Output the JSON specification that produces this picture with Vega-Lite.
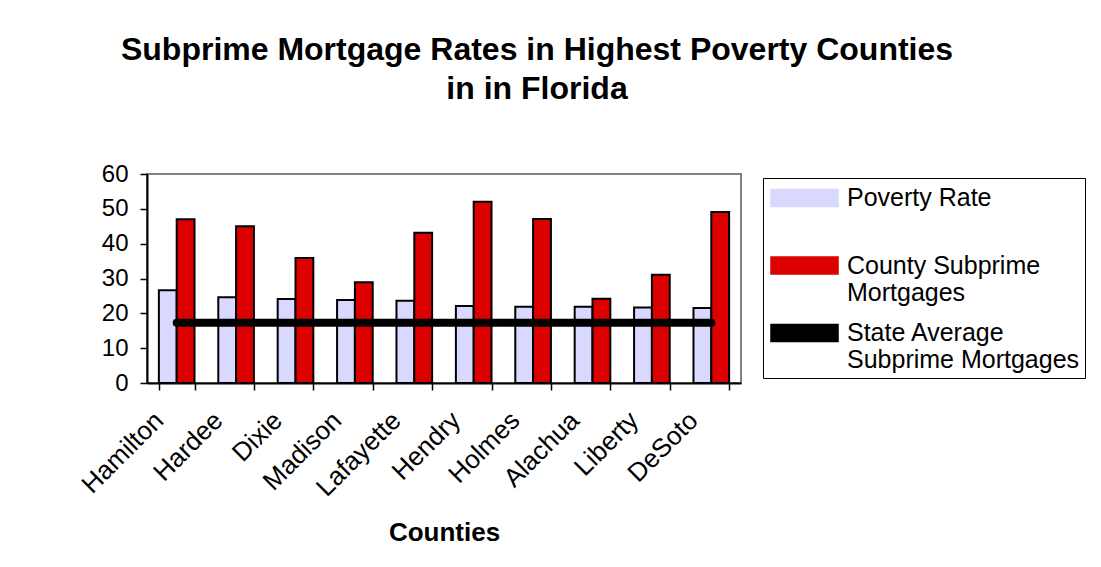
{
  "$schema": "https://vega.github.io/schema/vega-lite/v6.json",
  "autosize": "none",
  "width": 594,
  "height": 209,
  "padding": {"left": 147, "top": 174, "right": 360, "bottom": 184},
  "background": "white",
  "config": {
    "font": "Liberation Sans",
    "view": {"stroke": "#808080", "strokeWidth": 2}
  },
  "title": {
    "text": ["Subprime Mortgage Rates in Highest Poverty Counties", "in in Florida"],
    "font": "Liberation Sans",
    "fontSize": 32,
    "fontWeight": "bold",
    "color": "black",
    "anchor": "middle",
    "dx": 93,
    "offset": 56,
    "lineHeight": 39
  },
  "datasets": {
    "bars": [
      {"county": "Hamilton", "series": "Poverty Rate", "value": 26.6},
      {"county": "Hamilton", "series": "County Subprime Mortgages", "value": 47.0},
      {"county": "Hardee", "series": "Poverty Rate", "value": 24.6},
      {"county": "Hardee", "series": "County Subprime Mortgages", "value": 45.0},
      {"county": "Dixie", "series": "Poverty Rate", "value": 24.1},
      {"county": "Dixie", "series": "County Subprime Mortgages", "value": 35.9},
      {"county": "Madison", "series": "Poverty Rate", "value": 23.8},
      {"county": "Madison", "series": "County Subprime Mortgages", "value": 28.9},
      {"county": "Lafayette", "series": "Poverty Rate", "value": 23.6},
      {"county": "Lafayette", "series": "County Subprime Mortgages", "value": 43.1},
      {"county": "Hendry", "series": "Poverty Rate", "value": 22.1},
      {"county": "Hendry", "series": "County Subprime Mortgages", "value": 52.0},
      {"county": "Holmes", "series": "Poverty Rate", "value": 21.9},
      {"county": "Holmes", "series": "County Subprime Mortgages", "value": 47.1},
      {"county": "Alachua", "series": "Poverty Rate", "value": 21.9},
      {"county": "Alachua", "series": "County Subprime Mortgages", "value": 24.2},
      {"county": "Liberty", "series": "Poverty Rate", "value": 21.7},
      {"county": "Liberty", "series": "County Subprime Mortgages", "value": 31.1},
      {"county": "DeSoto", "series": "Poverty Rate", "value": 21.5},
      {"county": "DeSoto", "series": "County Subprime Mortgages", "value": 49.1}
    ],
    "avg": [
      {"county": "Hamilton", "series": "State Average Subprime Mortgages", "value": 17.3},
      {"county": "Hardee", "series": "State Average Subprime Mortgages", "value": 17.3},
      {"county": "Dixie", "series": "State Average Subprime Mortgages", "value": 17.3},
      {"county": "Madison", "series": "State Average Subprime Mortgages", "value": 17.3},
      {"county": "Lafayette", "series": "State Average Subprime Mortgages", "value": 17.3},
      {"county": "Hendry", "series": "State Average Subprime Mortgages", "value": 17.3},
      {"county": "Holmes", "series": "State Average Subprime Mortgages", "value": 17.3},
      {"county": "Alachua", "series": "State Average Subprime Mortgages", "value": 17.3},
      {"county": "Liberty", "series": "State Average Subprime Mortgages", "value": 17.3},
      {"county": "DeSoto", "series": "State Average Subprime Mortgages", "value": 17.3}
    ]
  },
  "encoding": {
    "x": {
      "field": "county",
      "type": "nominal",
      "sort": ["Hamilton", "Hardee", "Dixie", "Madison", "Lafayette", "Hendry", "Holmes", "Alachua", "Liberty", "DeSoto"],
      "scale": {"paddingInner": 0.4, "paddingOuter": 0.2},
      "axis": {
        "title": "Counties",
        "titleFont": "Liberation Sans",
        "titleFontSize": 26,
        "titleFontWeight": "bold",
        "titleColor": "black",
        "titlePadding": 19,
        "labelAngle": -45,
        "labelAlign": "right",
        "labelBaseline": "middle",
        "labelFontSize": 26,
        "labelColor": "black",
        "labelPadding": 26,
        "labelOffset": -18,
        "tickBand": "extent",
        "tickSize": 7,
        "tickColor": "black",
        "tickWidth": 1.5,
        "domainColor": "black",
        "domainWidth": 2
      }
    },
    "y": {
      "field": "value",
      "type": "quantitative",
      "scale": {"domain": [0, 60]},
      "axis": {
        "title": null,
        "values": [0, 10, 20, 30, 40, 50, 60],
        "grid": false,
        "labelOverlap": false,
        "labelFontSize": 24,
        "labelColor": "black",
        "labelPadding": 12,
        "tickSize": 7,
        "tickColor": "black",
        "tickWidth": 1.5,
        "domainColor": "black",
        "domainWidth": 2
      }
    }
  },
  "layer": [
    {
      "data": {"name": "bars"},
      "mark": {"type": "bar", "stroke": "black", "strokeWidth": 2},
      "encoding": {
        "xOffset": {"field": "series", "type": "nominal", "sort": ["Poverty Rate", "County Subprime Mortgages"], "scale": {"paddingInner": 0}},
        "color": {
          "field": "series",
          "type": "nominal",
          "scale": {
            "domain": ["Poverty Rate", "County Subprime Mortgages", "State Average Subprime Mortgages"],
            "range": ["#d9d9ff", "#dc0000", "#000000"]
          },
          "legend": {
            "title": null,
            "orient": "none",
            "legendX": 616,
            "legendY": 4,
            "strokeColor": "black",
            "fillColor": "white",
            "padding": 5,
            "labelFont": "Liberation Sans",
            "labelFontSize": 25,
            "labelColor": "black",
            "labelOffset": 49,
            "labelLimit": 400,
            "rowPadding": 12.5,
            "symbolType": "M-0.857,-0.607H3.93V0.607H-0.857Z",
            "symbolSize": 784,
            "symbolStrokeColor": "black",
            "symbolStrokeWidth": 1.5,
            "labelExpr": "datum.label == 'County Subprime Mortgages' ? ['County Subprime', 'Mortgages'] : datum.label == 'State Average Subprime Mortgages' ? ['State Average', 'Subprime Mortgages'] : [' ' + datum.label, ' ']"
          }
        }
      }
    },
    {
      "data": {"name": "avg"},
      "mark": {"type": "line", "strokeWidth": 8, "strokeCap": "round"},
      "encoding": {
        "color": {"field": "series", "type": "nominal", "legend": null}
      }
    }
  ]
}
